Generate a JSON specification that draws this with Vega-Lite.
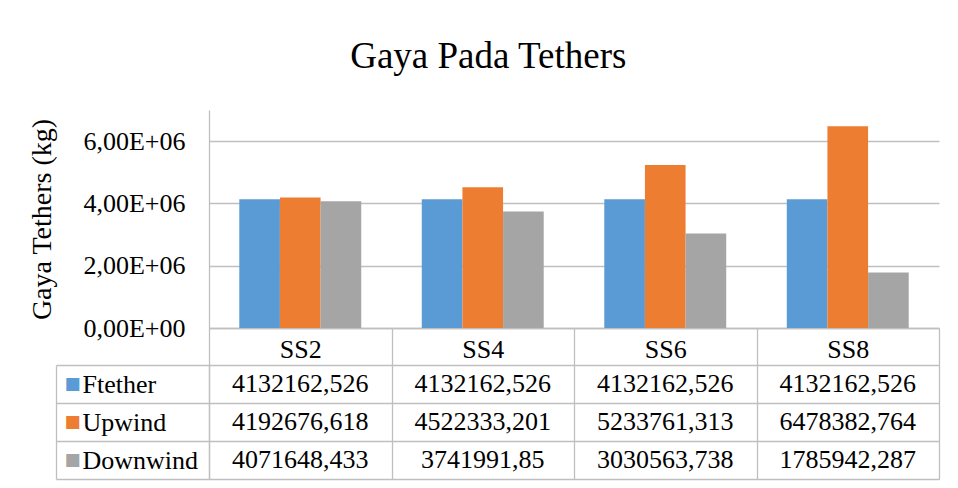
{
  "$schema": "https://vega.github.io/schema/vega-lite/v6.json",
  "padding": {"left": 28, "top": 38, "right": 10, "bottom": 5},
  "background": "white",
  "title": {"text": "Gaya Pada Tethers", "font": "Liberation Serif", "fontSize": 37, "fontWeight": "normal", "color": "black", "anchor": "middle", "offset": 34, "dx": 4},
  "datasets": {
    "rows": [
      {"scenario": "SS2", "series": "Ftether", "value": 4132162.526},
      {"scenario": "SS2", "series": "Upwind", "value": 4192676.618},
      {"scenario": "SS2", "series": "Downwind", "value": 4071648.433},
      {"scenario": "SS4", "series": "Ftether", "value": 4132162.526},
      {"scenario": "SS4", "series": "Upwind", "value": 4522333.201},
      {"scenario": "SS4", "series": "Downwind", "value": 3741991.85},
      {"scenario": "SS6", "series": "Ftether", "value": 4132162.526},
      {"scenario": "SS6", "series": "Upwind", "value": 5233761.313},
      {"scenario": "SS6", "series": "Downwind", "value": 3030563.738},
      {"scenario": "SS8", "series": "Ftether", "value": 4132162.526},
      {"scenario": "SS8", "series": "Upwind", "value": 6478382.764},
      {"scenario": "SS8", "series": "Downwind", "value": 1785942.287}
    ]
  },
  "spacing": 37,
  "bounds": "flush",
  "vconcat": [
    {
      "width": 730,
      "height": 218,
      "data": {"name": "rows"},
      "view": {"stroke": null},
      "mark": {"type": "bar"},
      "encoding": {
        "x": {
          "field": "scenario", "type": "nominal", "sort": ["SS2", "SS4", "SS6", "SS8"],
          "scale": {"paddingInner": 0, "paddingOuter": 0},
          "axis": {"title": null, "tickBand": "extent", "ticks": true, "tickSize": 37, "tickColor": "#bfbfbf", "domainColor": "#bfbfbf", "labelAngle": 0, "labelFont": "Liberation Serif", "labelFontSize": 26, "labelColor": "black", "labelBaseline": "alphabetic", "labelPadding": -8, "grid": false}
        },
        "xOffset": {"field": "series", "type": "nominal", "sort": ["Ftether", "Upwind", "Downwind"], "scale": {"paddingInner": 0, "paddingOuter": 0.745}},
        "y": {
          "field": "value", "type": "quantitative",
          "scale": {"domain": [0, 7000000], "nice": false},
          "axis": {"title": "Gaya Tethers (kg)", "titleFont": "Liberation Serif", "titleFontSize": 28, "titleFontWeight": "normal", "titleColor": "black", "titlePadding": 26, "values": [0, 2000000, 4000000, 6000000], "labelExpr": "datum.value == 0 ? '0,00E+00' : replace(format(datum.value / 1000000, '.2f'), '.', ',') + 'E+06'", "labelFont": "Liberation Serif", "labelFontSize": 26, "labelColor": "black", "labelPadding": 24, "ticks": false, "domainColor": "#bfbfbf", "gridColor": "#bfbfbf", "labelBaseline": "middle"}
        },
        "color": {"field": "series", "type": "nominal", "scale": {"domain": ["Ftether", "Upwind", "Downwind"], "range": ["#5b9bd5", "#ed7d31", "#a5a5a5"]}, "legend": null}
      }
    },
    {
      "width": 730,
      "height": 114,
      "data": {"name": "rows"},
      "view": {"stroke": "#bfbfbf"},
      "resolve": {"axis": {"y": "independent"}},
      "layer": [
        {
          "mark": {"type": "text", "font": "Liberation Serif", "fontSize": 26, "color": "black", "baseline": "middle"},
          "encoding": {
            "x": {"field": "scenario", "type": "nominal", "sort": ["SS2", "SS4", "SS6", "SS8"], "scale": {"paddingInner": 0, "paddingOuter": 0},
              "axis": {"title": null, "labels": false, "ticks": false, "domain": false, "grid": true, "tickBand": "extent", "gridColor": "#bfbfbf"}},
            "y": {"field": "series", "type": "nominal", "sort": ["Ftether", "Upwind", "Downwind"], "scale": {"paddingInner": 0, "paddingOuter": 0},
              "axis": {"title": null, "orient": "left", "tickBand": "extent", "ticks": true, "tickSize": 153, "tickColor": "#bfbfbf", "domainColor": "#bfbfbf", "grid": true, "gridColor": "#bfbfbf", "labelAlign": "left", "labelPadding": -26, "labelFont": "Liberation Serif", "labelFontSize": 26, "labelColor": "black", "labelBaseline": "middle"}},
            "text": {"field": "value", "type": "quantitative", "format": ".10~r"}
          }
        },
        {
          "mark": {"type": "text", "opacity": 0},
          "encoding": {
            "y": {"field": "series", "type": "nominal", "sort": ["Ftether", "Upwind", "Downwind"], "scale": {"paddingInner": 0, "paddingOuter": 0},
              "axis": {"title": null, "orient": "left", "offset": 153, "ticks": false, "grid": false, "domainColor": "#bfbfbf", "labelExpr": "'■'", "labelAlign": "left", "labelPadding": -8, "labelFont": "DejaVu Sans", "labelFontSize": 17, "labelBaseline": "middle",
                "labelColor": {"condition": [{"test": "datum.value === 'Ftether'", "value": "#5b9bd5"}, {"test": "datum.value === 'Upwind'", "value": "#ed7d31"}], "value": "#a5a5a5"}}},
            "text": {"value": ""}
          }
        }
      ]
    }
  ],
  "config": {
    "locale": {"number": {"decimal": ",", "thousands": ".", "grouping": [3], "currency": ["", ""]}},
    "axis": {"domainWidth": 1.3, "gridWidth": 1.3, "tickWidth": 1.3}
  }
}
